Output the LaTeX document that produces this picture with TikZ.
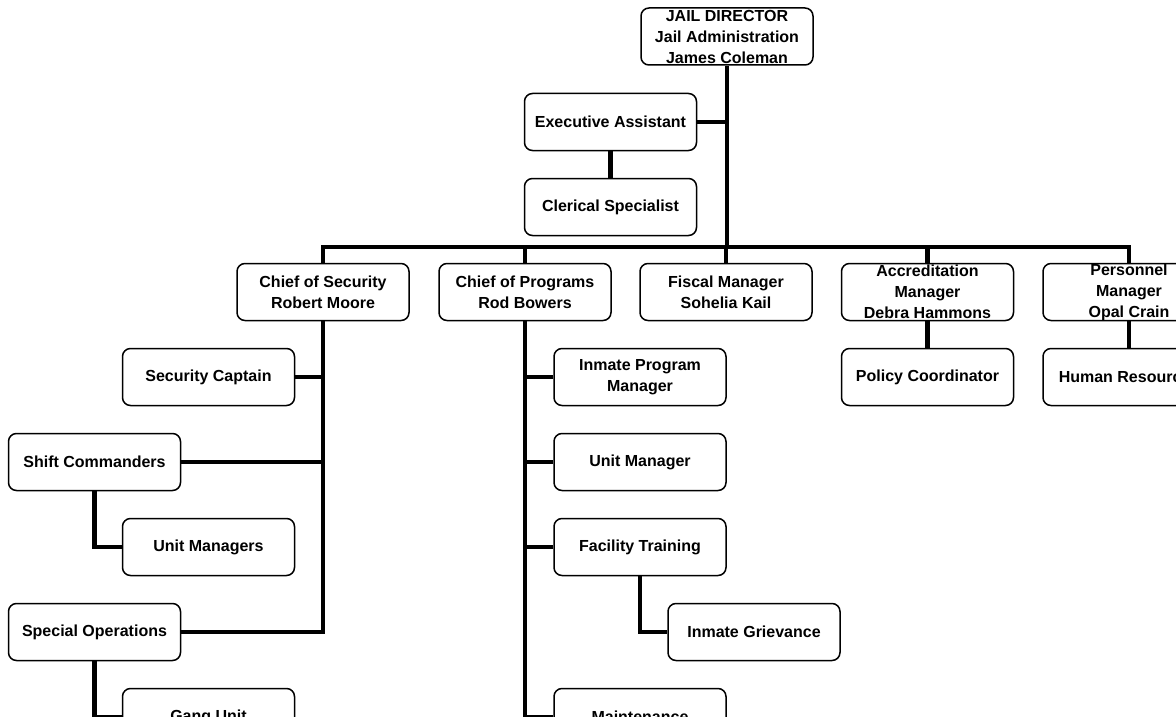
\documentclass[tikz,border=0pt]{standalone}
\usepackage{fontspec}
\setmainfont{Liberation Sans}
\usetikzlibrary{positioning}

\tikzset{
  unitbox/.style={draw, line width=1.5pt, rounded corners=8pt, inner sep=0pt,
    minimum width=172pt, minimum height=57pt, align=center,
    font=\fontsize{16}{21}\selectfont\bfseries},
  link/.style={line width=4.5pt}
}

\begin{document}
\begin{tikzpicture}[x=1pt, y=-1pt]

    \useasboundingbox (0,0) rectangle (1176,717);
    \clip (0,0) rectangle (1176,717);

    % direccion
    \node[unitbox] (dir) at (727,36.5) {JAIL DIRECTOR\\Jail Administration\\James Coleman};
    \node[unitbox] (ea) at (610.5,122) {Executive Assistant};
    \node[unitbox] (cs) at (610.5,207) {Clerical Specialist};

    % segundo nivel
    \node[unitbox] (sec) at (323,292) {Chief of Security\\Robert Moore};
    \node[unitbox] (prog) at (525,292) {Chief of Programs\\Rod Bowers};
    \node[unitbox] (fisc) at (726,292) {Fiscal Manager\\Sohelia Kail};
    \node[unitbox] (accr) at (927.5,292) {Accreditation\\Manager\\Debra Hammons};
    \node[unitbox] (pers) at (1129,292) {Personnel\\Manager\\Opal Crain};

    % seguridad
    \node[unitbox] (cap) at (208.5,377) {Security Captain};
    \node[unitbox] (shc) at (94.5,462) {Shift Commanders};
    \node[unitbox] (um) at (208.5,547) {Unit Managers};
    \node[unitbox] (spo) at (94.5,632) {Special Operations};
    \node[unitbox] (gang) at (208.5,717) {Gang Unit};

    % programas
    \node[unitbox] (ipm) at (640,377) {Inmate Program\\Manager};
    \node[unitbox] (unm) at (640,462) {Unit Manager};
    \node[unitbox] (ft) at (640,547) {Facility Training};
    \node[unitbox] (ig) at (754,632) {Inmate Grievance};
    \node[unitbox] (mnt) at (640,717) {Maintenance};

    % acreditacion y personal
    \node[unitbox] (pol) at (927.5,377) {Policy Coordinator};
    \node[unitbox] (hr) at (1129,377) {Human Resources};

    % tronco principal y barra
    \coordinate (bus) at (727,247);
    \draw[link] (dir.south) -- (bus);
    \draw[link] (ea.east) -- (ea.east -| bus);
    \draw[link] (ea.south) -- (cs.north);
    \draw[link] (sec.north) |- (bus) -| (pers.north);
    \foreach \n in {prog,fisc,accr}
        \draw[link] (\n.north) -- (\n.north |- bus);

    % ramas de seguridad
    \draw[link] (sec.south) |- (spo.east);
    \draw[link] (cap.east) -- (cap.east -| sec.south);
    \draw[link] (shc.east) -- (shc.east -| sec.south);
    \draw[link] (shc.south) |- (um.west);
    \draw[link] (spo.south) |- (gang.west);

    % ramas de programas
    \draw[link] (prog.south) |- (mnt.west);
    \draw[link] (ipm.west) -- (ipm.west -| prog.south);
    \draw[link] (unm.west) -- (unm.west -| prog.south);
    \draw[link] (ft.west) -- (ft.west -| prog.south);
    \draw[link] (ft.south) |- (ig.west);

    \draw[link] (accr.south) -- (pol.north);
    \draw[link] (pers.south) -- (hr.north);
\end{tikzpicture}
\end{document}
